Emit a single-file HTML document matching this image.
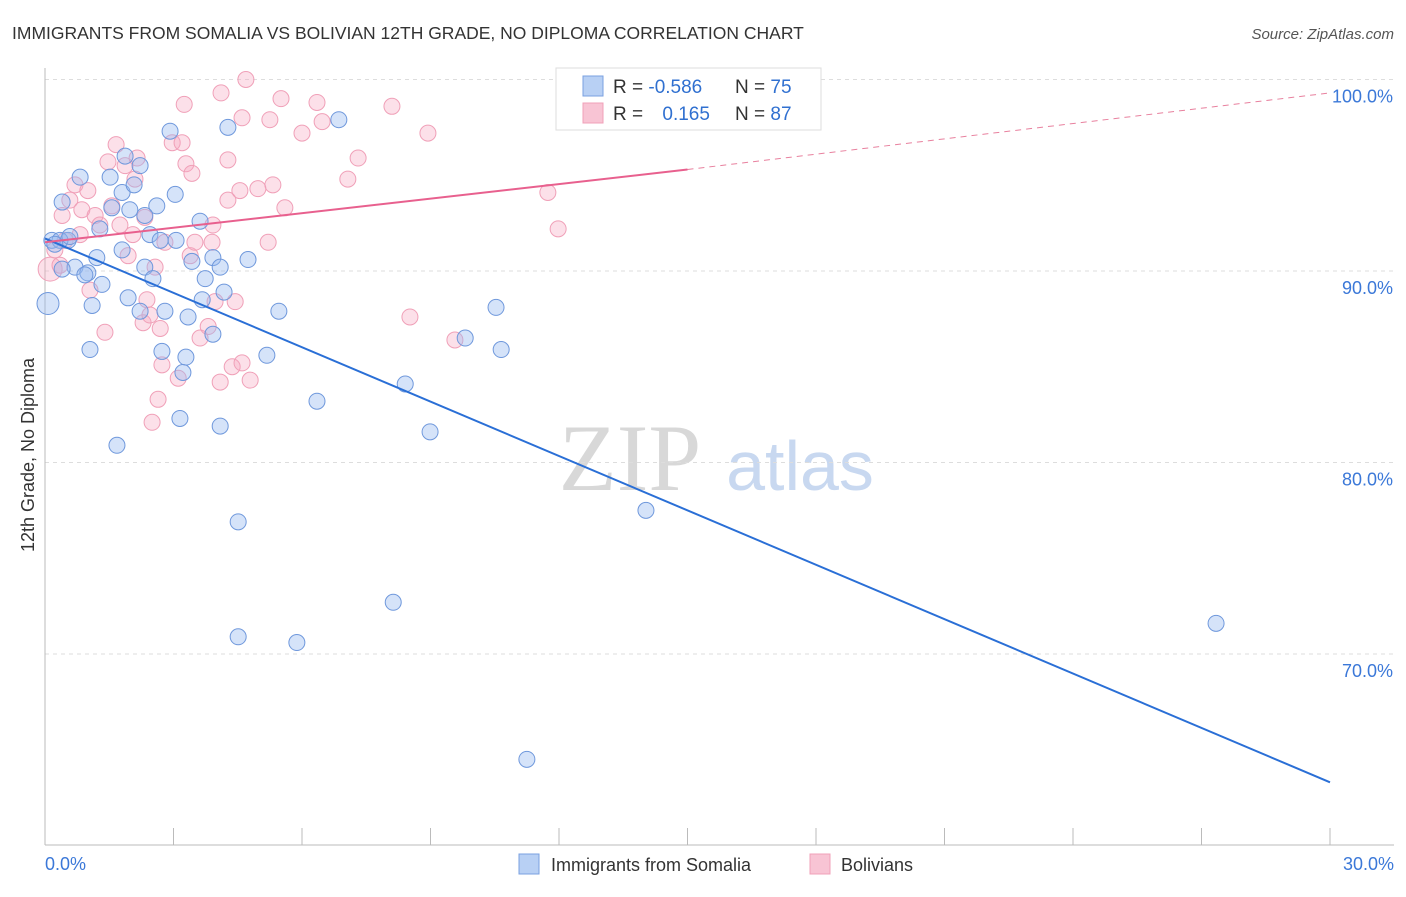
<!DOCTYPE html>
<html><head><meta charset="utf-8"><style>
body{margin:0;background:#fff;font-family:"Liberation Sans",sans-serif;}
</style></head><body>
<svg id="chart" width="1406" height="892" xmlns="http://www.w3.org/2000/svg" font-family="Liberation Sans, sans-serif">
<text x="12" y="39" font-size="17.5" fill="#333">IMMIGRANTS FROM SOMALIA VS BOLIVIAN 12TH GRADE, NO DIPLOMA CORRELATION CHART</text>
<text x="1394" y="39" font-size="15" fill="#555" text-anchor="end" font-style="italic">Source: ZipAtlas.com</text>
<text x="630" y="490" font-size="95" fill="#d8d8d8" font-family="Liberation Serif, serif" text-anchor="middle">ZIP</text>
<text x="800" y="490" font-size="70" fill="#c8d8f0" text-anchor="middle">atlas</text>
<g id="grid"></g>
<g id="axes"></g>
<g id="pts"></g>
<g id="lines"></g>
<text transform="translate(34,455) rotate(-90)" font-size="18" fill="#333" text-anchor="middle">12th Grade, No Diploma</text>
<g>
<rect x="556" y="68" width="265" height="62" fill="#fff" stroke="#ddd"/>
<rect x="583" y="76" width="20" height="20" fill="#b8d0f4" stroke="#7aa0e0"/>
<rect x="583" y="103" width="20" height="20" fill="#f8c4d4" stroke="#f0a0b8"/>
<text x="613" y="93" font-size="19" fill="#333">R = <tspan fill="#3070d0">-0.586</tspan></text>
<text x="735" y="93" font-size="19" fill="#333">N = <tspan fill="#3070d0">75</tspan></text>
<text x="613" y="120" font-size="19" fill="#333">R = <tspan fill="#3070d0" dx="14">0.165</tspan></text>
<text x="735" y="120" font-size="19" fill="#333">N = <tspan fill="#3070d0">87</tspan></text>
</g>
<g>
<rect x="519" y="854" width="20" height="20" fill="#b8d0f4" stroke="#7aa0e0"/>
<text x="551" y="871" font-size="18" fill="#333">Immigrants from Somalia</text>
<rect x="810" y="854" width="20" height="20" fill="#f8c4d4" stroke="#f0a0b8"/>
<text x="841" y="871" font-size="18" fill="#333">Bolivians</text>
</g>
</svg>
<script>
const blueX=[0.07,0.4,0.82,0.16,0.54,0.7,1.0,1.21,1.1,1.33,1.05,1.52,1.56,1.28,1.8,1.87,2.08,2.22,1.98,1.8,1.94,2.22,2.33,2.45,2.52,2.61,2.8,2.73,2.92,3.04,3.06,3.29,3.34,3.22,3.15,3.43,3.62,3.74,3.67,3.92,3.92,4.09,4.18,4.27,4.09,4.51,4.51,4.74,5.18,5.46,5.88,6.35,6.86,8.13,8.41,8.99,9.81,10.53,10.65,11.25,14.03,27.34,1.68,0.35,0.58,0.23,0.93,0.4,2.69,2.33];
const blueY=[88.3,93.6,94.9,91.6,91.6,90.2,89.9,90.7,88.2,89.3,85.9,94.9,93.3,92.2,94.1,96.0,94.5,95.5,93.2,91.1,88.6,87.9,90.2,91.9,89.6,93.4,87.9,85.8,97.3,94.0,91.6,85.5,87.6,84.7,82.3,90.5,92.6,89.6,88.5,90.7,86.7,90.2,88.9,97.5,81.9,76.9,70.9,90.6,85.6,87.9,70.6,83.2,97.9,72.7,84.1,81.6,86.5,88.1,85.9,64.5,77.5,71.6,80.9,91.6,91.8,91.4,89.8,90.1,91.6,92.9];
const pinkX=[0.12,0.23,0.4,0.58,0.7,0.86,1.0,1.17,1.28,1.4,1.47,1.56,1.66,1.75,1.87,1.94,2.05,2.15,2.33,2.38,2.29,2.45,2.57,2.64,2.69,2.73,2.8,2.97,3.2,3.11,3.29,3.39,3.43,3.5,3.25,3.62,3.81,3.92,3.9,3.97,4.09,4.11,4.27,4.27,4.37,4.44,4.55,4.6,4.6,4.79,4.97,5.21,5.25,5.32,5.51,5.6,6.0,6.35,6.47,7.07,7.31,8.1,8.52,8.94,9.57,11.74,11.98,4.69,2.5,1.05,0.47,2.1,0.82,0.35];
const pinkY=[90.1,91.1,92.9,93.7,94.5,93.2,94.2,92.9,92.4,86.8,95.7,93.4,96.6,92.4,95.5,90.8,91.9,95.9,92.8,88.5,87.3,87.7,90.2,83.3,87.0,85.1,91.5,96.7,96.7,84.4,95.6,90.8,95.1,91.5,98.7,86.5,87.1,92.4,91.5,88.4,84.2,99.3,95.8,93.7,85.0,88.4,94.2,85.2,98.0,84.3,94.3,91.5,97.9,94.5,99.0,93.3,97.2,98.8,97.8,94.8,95.9,98.6,87.6,97.2,86.4,94.1,92.2,100.0,82.1,89.0,91.6,94.8,91.9,90.3];
const yTicks=[100,90,80,70];
const yTickLabels=["100.0%","90.0%","80.0%","70.0%"];
const xTicks=[0,3,6,9,12,15,18,21,24,27,30];
const blueTrend=[[0,91.7],[30,63.3]];
const pinkTrend=[[0,91.5],[15,95.3],[30,99.3]];
const NS="http://www.w3.org/2000/svg";
const X=v=>45+v/30*1285;
const Y=v=>79.5+(100-v)*19.15;
function mk(t,a,p){const e=document.createElementNS(NS,t);for(const k in a)e.setAttribute(k,a[k]);p.appendChild(e);return e;}
const grid=document.getElementById('grid'),axes=document.getElementById('axes');
yTicks.forEach((v,i)=>{
 const l=mk('line',{x1:45,x2:1394,y1:Y(v),y2:Y(v),stroke:'#ddd','stroke-dasharray':'4,4'},grid);
 
 
 const t=mk('text',{x:1393,y:Y(v)+23,'font-size':18,fill:'#3b78d8','text-anchor':'end'},axes);
 t.textContent=yTickLabels[i];
 
 
});
const ax=mk('line',{x1:45,x2:1394,y1:845,y2:845,stroke:'#bbb'},axes);


const ay=mk('line',{x1:45,x2:45,y1:68,y2:845,stroke:'#bbb'},axes);


xTicks.forEach(v=>{
 const l=mk('line',{x1:X(v),x2:X(v),y1:828,y2:845,stroke:'#bbb'},axes);
 
 
});
[[0,'0.0%','start',45],[30,'30.0%','end',1394]].forEach(d=>{
 const t=mk('text',{x:d[3],y:870,'font-size':18,fill:'#3b78d8','text-anchor':d[2]},axes);
 t.textContent=d[1];
 
 
});
const pts=document.getElementById('pts');
pinkX.forEach((x,i)=>{
 const c=mk('circle',{cx:X(x),cy:Y(pinkY[i]),r:i==0?12:8,fill:'rgba(245,165,192,0.35)',stroke:'#f0a0b8','stroke-width':1},pts);
 
 
});
blueX.forEach((x,i)=>{
 const c=mk('circle',{cx:X(x),cy:Y(blueY[i]),r:i==0?11:8,fill:'rgba(150,185,240,0.4)',stroke:'#6f98dc','stroke-width':1},pts);
 
 
});
const lines=document.getElementById('lines');
const b=mk('line',{x1:X(blueTrend[0][0]),y1:Y(blueTrend[0][1]),x2:X(blueTrend[1][0]),y2:Y(blueTrend[1][1]),stroke:'#2a6fd6','stroke-width':2},lines);


const p1=mk('line',{x1:X(pinkTrend[0][0]),y1:Y(pinkTrend[0][1]),x2:X(pinkTrend[1][0]),y2:Y(pinkTrend[1][1]),stroke:'#e8608e','stroke-width':2},lines);


const p2=mk('line',{x1:X(pinkTrend[1][0]),y1:Y(pinkTrend[1][1]),x2:X(pinkTrend[2][0]),y2:Y(pinkTrend[2][1]),stroke:'#e8809e','stroke-width':1,'stroke-dasharray':'6,5'},lines);


</script>
</body></html>
